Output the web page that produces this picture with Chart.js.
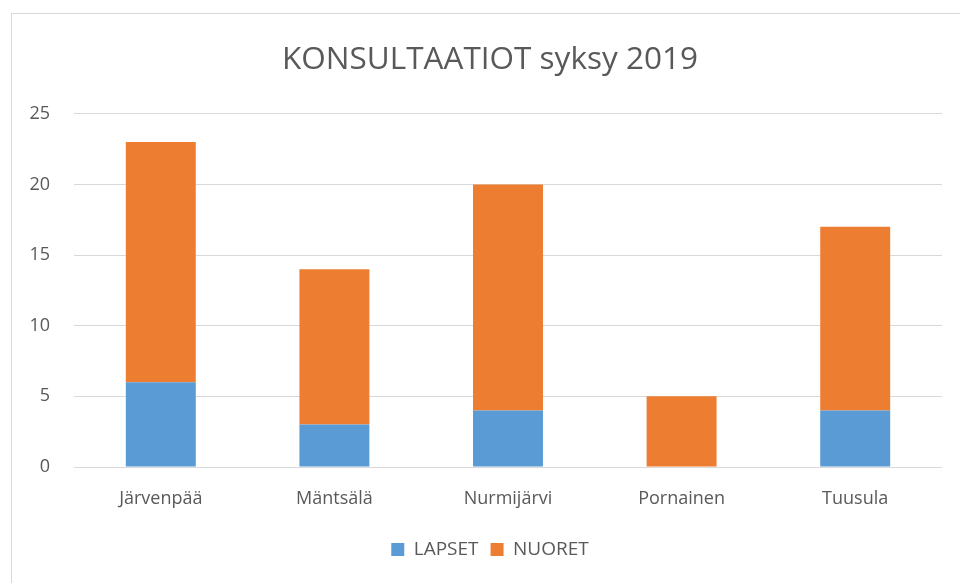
<!DOCTYPE html>
<html>
<head>
<meta charset="utf-8">
<script src="https://cdn.jsdelivr.net/npm/chart.js@4"></script>
<style>
  html, body { margin: 0; padding: 0; background: #fff; }
  #wrap { position: relative; width: 960px; height: 583px; }
  #frame { position: absolute; left: 11px; top: 13px; width: 1000px; height: 700px; border: 1px solid #d9d9d9; box-sizing: border-box; }
  canvas { position: absolute; left: 0; top: 0; }
</style>
</head>
<body>
<div id="wrap">
  <div id="frame"></div>
  <canvas id="barChart" width="960" height="583"></canvas>
</div>
<script>
var categories = ['Järvenpää', 'Mäntsälä', 'Nurmijärvi', 'Pornainen', 'Tuusula'];
var lapset = [6, 3, 4, 0, 4];
var nuoret = [17, 11, 16, 5, 13];
var yTicks = [0, 5, 10, 15, 20, 25];

var fontFamily = "'Open Sans', 'Liberation Sans', sans-serif";
var textColor = '#595959';

var ctx = document.getElementById('barChart').getContext('2d');
var barChart = new Chart(ctx, {
    type: 'bar',
    data: {
        labels: categories,
        datasets: [
            {
                label: 'LAPSET',
                data: lapset,
                backgroundColor: '#5b9bd5',
                categoryPercentage: 1,
                barPercentage: 0.403
            },
            {
                label: 'NUORET',
                data: nuoret,
                backgroundColor: '#ed7d31',
                categoryPercentage: 1,
                barPercentage: 0.403
            }
        ]
    },
    options: {
        responsive: false,
        animation: false,
        layout: { padding: { left: 20, right: 0, top: 0, bottom: 14 } },
        plugins: {
            title: {
                display: true,
                text: 'KONSULTAATIOT syksy 2019',
                color: textColor,
                font: { family: fontFamily, size: 31.5, weight: 'normal' },
                padding: { top: 41, bottom: 35 }
            },
            legend: {
                position: 'bottom',
                labels: {
                    color: textColor,
                    font: { family: fontFamily, size: 19 },
                    boxWidth: 13,
                    boxHeight: 13,
                    padding: 12
                }
            },
            tooltip: { enabled: false }
        },
        scales: {
            x: {
                stacked: true,
                grid: { display: false },
                border: { display: false },
                ticks: { color: textColor, font: { family: fontFamily, size: 18 }, padding: 13 },
                afterFit: function (scale) { scale.height = 61; }
            },
            y: {
                stacked: true,
                min: 0,
                max: 25,
                afterBuildTicks: function (scale) {
                    scale.ticks = yTicks.map(function (v) { return { value: v }; });
                },
                grid: { color: '#d9d9d9', lineWidth: 1, drawTicks: false },
                border: { display: false },
                ticks: { color: textColor, font: { family: fontFamily, size: 18 }, padding: 24 },
                afterFit: function (scale) { scale.width = 54; }
            },
            yRight: {
                position: 'right',
                display: true,
                grid: { display: false },
                border: { display: false },
                ticks: { display: false },
                afterFit: function (scale) { scale.width = 18; }
            }
        }
    }
});
</script>
</body>
</html>
